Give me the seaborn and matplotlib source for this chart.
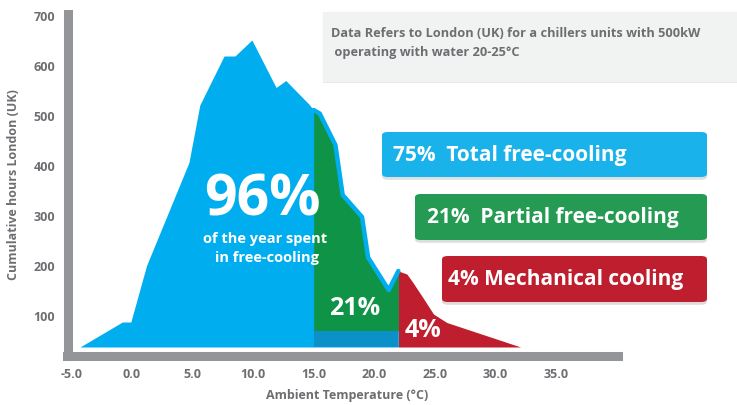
import numpy as np
import matplotlib
matplotlib.use("Agg")
import matplotlib.pyplot as plt
import matplotlib.patheffects as pe
from matplotlib.patches import FancyBboxPatch, Rectangle
import seaborn as sns

# ----------------------------
# Data
# ----------------------------
temp = [-4.3, -0.8, -0.1, 1.2, 4.7, 5.6, 7.6, 8.5, 9.9, 11.9, 12.7, 14.6,
        15.0, 15.5, 16.8, 17.4, 19.0, 19.5, 21.2, 22.0]
hours = [36, 86, 86, 199, 405, 520, 618, 618, 650, 555, 569, 522,
         510, 503, 440, 340, 296, 215, 150, 188]

temp_mech = [22.0, 22.7, 23.2, 24.1, 24.9, 26.0, 32.1]
hours_mech = [188, 182, 165, 132, 102, 85, 36]

baseline = 36
partial_floor = 68
free_end = 15.0
partial_end = 22.0

xticks = [-5, 0, 5, 10, 15, 20, 25, 30, 35]
yticks = [100, 200, 300, 400, 500, 600, 700]

box_labels = ["75%  Total free-cooling", "21%  Partial free-cooling", "4% Mechanical cooling"]
note = "Data Refers to London (UK) for a chillers units with 500kW\n operating with water 20-25°C"

# colours
BLUE = "#00aeef"
DARK_BLUE = "#0b90c8"
GREEN = "#0f9447"
RED = "#be1e2d"
GREY = "#939598"
TEXT = "#6d6e71"
box_colors = ["#1ab2ea", "#259a52", "#be1e2d"]

# ----------------------------
# Setup
# ----------------------------
sns.set_style("white")
plt.rcParams["font.family"] = ["Open Sans", "DejaVu Sans"]
plt.rcParams["font.weight"] = "bold"

W, H = 737, 406
fig = plt.figure(figsize=(W / 100, H / 100), dpi=100)


def fx(x):
    return x / W


def fy(y):
    return 1 - y / H


# axes box in pixels (spine centres)
left, right, top, bottom = 67.5, 617.5, 14.5, 357
ax = fig.add_axes([fx(left), fy(bottom), fx(right - left), (bottom - top) / H])

t = np.array(temp)
h = np.array(hours)
part = t >= free_end

# free-cooling area
ax.fill_between(t, baseline, h, color=BLUE, lw=0, zorder=1)
# partial free-cooling
ax.fill_between(t[part], partial_floor, h[part], color=GREEN, lw=0, zorder=2)
ax.fill_between([free_end, partial_end], baseline, partial_floor, color=DARK_BLUE, lw=0, zorder=2)
sns.lineplot(x=t[part], y=h[part], color=BLUE, lw=3.2, ax=ax, zorder=3)
# mechanical cooling
ax.fill_between(temp_mech, baseline, hours_mech, color=RED, lw=0, zorder=2)

ax.set_xlim(-5.33, 40.1)
ax.set_ylim(18, 703)
ax.set_xticks(xticks)
ax.set_xticklabels([f"{v:.1f}" for v in xticks])
ax.set_yticks(yticks)
ax.tick_params(length=0, labelsize=9, labelcolor=TEXT)
ax.tick_params(axis="y", pad=9)
ax.tick_params(axis="x", pad=8)
for lab in ax.get_xticklabels() + ax.get_yticklabels():
    lab.set_fontweight("bold")

sns.despine(ax=ax)
for side in ["left", "bottom"]:
    ax.spines[side].set_color(GREY)
    ax.spines[side].set_linewidth(6.5)
    ax.spines[side].set_capstyle("projecting")

ax.set_xlabel("Ambient Temperature (°C)", fontsize=9, fontweight="bold", color=TEXT)
ax.set_ylabel("Cumulative hours London (UK)", fontsize=9, fontweight="bold", color=TEXT)
ax.xaxis.set_label_coords((347 - left) / (right - left), (bottom - 389) / (bottom - top))
ax.yaxis.set_label_coords((20 - left) / (right - left), (bottom - 185) / (bottom - top))

# big annotations inside the chart
ax.text(10.8, 330, "96%", color="white", fontsize=41, fontweight="bold", ha="center", va="center", zorder=5)
ax.text(11.0, 254, "of the year spent", color="white", fontsize=10.5, fontweight="bold", ha="center", va="center", zorder=5)
ax.text(11.15, 216, "in free-cooling", color="white", fontsize=10.5, fontweight="bold", ha="center", va="center", zorder=5)
ax.text(18.35, 114, "21%", color="white", fontsize=18, fontweight="bold", ha="center", va="center", zorder=5)
ax.text(24.0, 70, "4%", color="white", fontsize=18, fontweight="bold", ha="center", va="center", zorder=5)

# ----------------------------
# Note box and legend boxes
# ----------------------------
note_box = Rectangle((fx(323), fy(82)), fx(W - 323 + 5), (82 - 13) / H,
                     transform=fig.transFigure, color="#f1f2f2", zorder=1,
                     path_effects=[pe.SimplePatchShadow(offset=(0, -1.5), alpha=0.12), pe.Normal()])
fig.patches.append(note_box)
fig.text(fx(331), fy(27), note, fontsize=9.2, fontweight="bold", color=TEXT,
         ha="left", va="top", linespacing=1.6, zorder=2)

boxes = [(382, 133, 178, 393), (415, 195, 241, 427), (442, 257, 303, 448)]
for (x0, y0, y1, tx), lab, col in zip(boxes, box_labels, box_colors):
    patch = FancyBboxPatch((fx(x0), fy(y1)), fx(707 - x0), (y1 - y0) / H,
                           boxstyle="round,pad=0,rounding_size=0.008",
                           transform=fig.transFigure, facecolor=col, edgecolor="none", zorder=3,
                           path_effects=[pe.SimplePatchShadow(offset=(0, -2), alpha=0.15), pe.Normal()])
    fig.patches.append(patch)
    fig.text(fx(tx), fy((y0 + y1) / 2), lab, fontsize=15, fontweight="bold", color="white",
             ha="left", va="center", zorder=4)

plt.savefig("out.png", dpi=100)
